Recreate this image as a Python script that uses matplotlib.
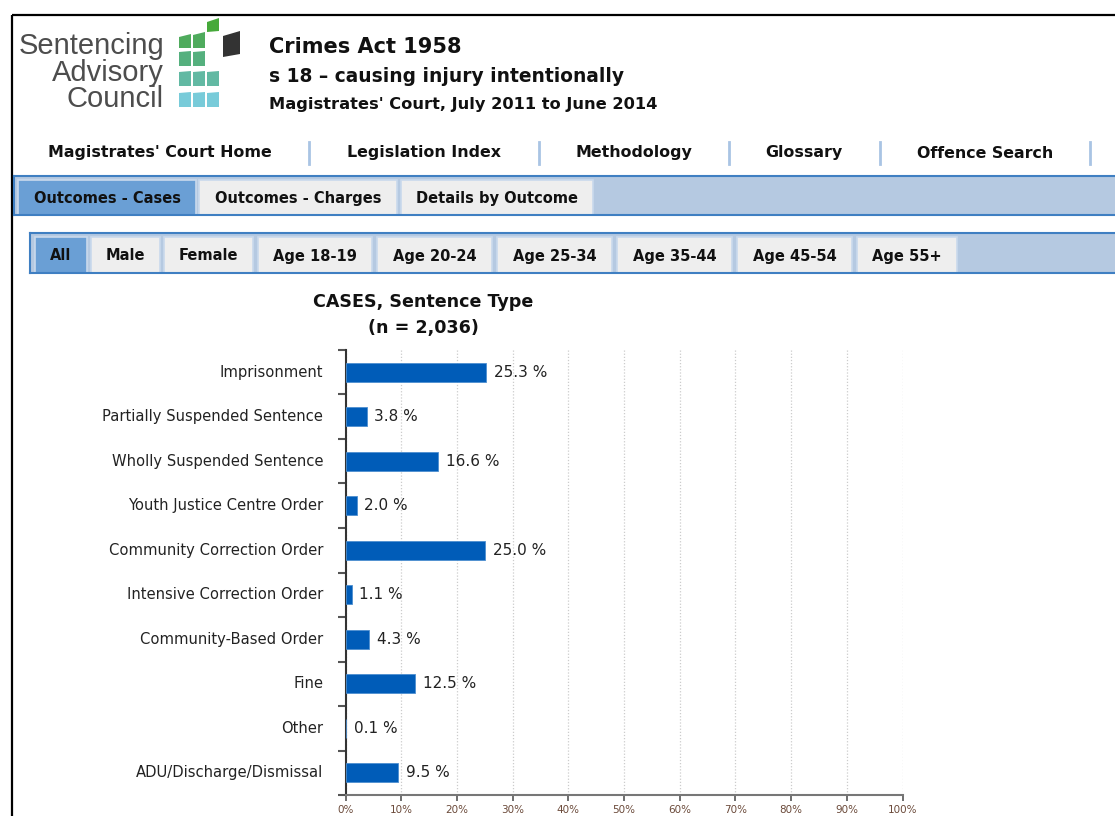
import numpy as np
import matplotlib
matplotlib.use("Agg")
import matplotlib.pyplot as plt
from matplotlib.patches import Rectangle, Polygon

plt.rcParams['font.family'] = ['DejaVu Sans']

CATEGORIES = ['Imprisonment', 'Partially Suspended Sentence', 'Wholly Suspended Sentence',
              'Youth Justice Centre Order', 'Community Correction Order', 'Intensive Correction Order',
              'Community-Based Order', 'Fine', 'Other', 'ADU/Discharge/Dismissal']
PERCENT = [25.3, 3.8, 16.6, 2.0, 25.0, 1.1, 4.3, 12.5, 0.1, 9.5]
XTICKS = [0, 10, 20, 30, 40, 50, 60, 70, 80, 90, 100]

NAV_LINKS = ["Magistrates' Court Home", 'Legislation Index', 'Methodology', 'Glossary', 'Offence Search']
OUTCOME_TABS = ['Outcomes - Cases', 'Outcomes - Charges', 'Details by Outcome']
GROUP_TABS = ['All', 'Male', 'Female', 'Age 18-19', 'Age 20-24', 'Age 25-34',
              'Age 35-44', 'Age 45-54', 'Age 55+']

W, H = 1115, 816
BAR_BLUE = '#005cb8'
TAB_SEL = '#6a9fd5'
TAB_OFF = '#eeeeee'
BAND = '#b5c9e1'
BAND_LINE = '#3f7fc2'

fig = plt.figure(figsize=(W / 100, H / 100), dpi=100)
fig.patch.set_facecolor('white')

# page layer in pixel coordinates (y down)
bg = fig.add_axes([0, 0, 1, 1])
bg.set_xlim(0, W)
bg.set_ylim(H, 0)
bg.axis('off')

# outer border of the page
bg.plot([12, W], [15, 15], color='black', lw=1.6, solid_capstyle='butt')
bg.plot([12, 12], [15, H], color='black', lw=1.6, solid_capstyle='butt')

# logo text
for txt, y in [('Sentencing', 46), ('Advisory', 73), ('Council', 99)]:
    bg.text(164, y, txt, ha='right', va='center', fontsize=21, color='#4d4d4d',
            family=['Liberation Sans Narrow', 'Liberation Sans'])

# logo squares: (col, row) cells, green at the top fading to teal
cells = [(2, 0), (0, 1), (1, 1), (0, 2), (1, 2), (0, 3), (1, 3), (2, 3), (0, 4), (1, 4), (2, 4)]
row_top = [20, 34, 51, 71, 92]
grad = ['#46a93a', '#4fab5d', '#55b07e', '#62b9a3', '#78cbd9']
for c, r in cells:
    x0 = 179 + c * 14
    y0 = row_top[r]
    if r == 0:
        pts = [(x0, y0 + 2), (x0 + 12, y0 - 2), (x0 + 12, y0 + 11), (x0, y0 + 12)]
    elif r == 1:
        lift = c * 2
        pts = [(x0, y0 + 3 - lift), (x0 + 12, y0 - lift), (x0 + 12, y0 + 14), (x0, y0 + 14)]
    else:
        pts = [(x0, y0 + 1), (x0 + 12, y0), (x0 + 12, y0 + 15), (x0, y0 + 15)]
    bg.add_patch(Polygon(pts, closed=True, color=grad[r], lw=0))
bg.add_patch(Polygon([(223, 36), (240, 31), (240, 54), (223, 57)], closed=True, color='#333333', lw=0))

# headings
bg.text(269, 47, 'Crimes Act 1958', ha='left', va='center', fontsize=15, weight='bold', color='#111111')
bg.text(269, 77, 's 18 \u2013 causing injury intentionally', ha='left', va='center', fontsize=13.4,
        weight='bold', color='#111111')
bg.text(269, 104, "Magistrates' Court, July 2011 to June 2014", ha='left', va='center', fontsize=11.7,
        weight='bold', color='#111111')

# top navigation
nav_x = [160, 424, 634, 804, 985]
for label, x in zip(NAV_LINKS, nav_x):
    bg.text(x, 153, label, ha='center', va='center', fontsize=11.4, weight='bold', color='#111111')
for x in [309, 539, 729, 880, 1090]:
    bg.plot([x, x], [142, 164], color='#a9c4e4', lw=2)


def tab_band(x_start, y_top, y_bot, tabs, spans, selected):
    bg.add_patch(Rectangle((x_start, y_top), W - x_start, y_bot - y_top, facecolor=BAND,
                           edgecolor='none'))
    bg.plot([x_start, W], [y_top, y_top], color=BAND_LINE, lw=1.5)
    bg.plot([x_start, W], [y_bot, y_bot], color=BAND_LINE, lw=1.5)
    bg.plot([x_start, x_start], [y_top, y_bot], color=BAND_LINE, lw=1.5)
    for i, (label, (x0, x1)) in enumerate(zip(tabs, spans)):
        face = TAB_SEL if i == selected else TAB_OFF
        bg.add_patch(Rectangle((x0, y_top + 4), x1 - x0, y_bot - y_top - 4.5, facecolor=face,
                               edgecolor='#c9d9ec', lw=1.2))
        bg.text((x0 + x1) / 2, (y_top + y_bot) / 2 + 3, label, ha='center', va='center',
                fontsize=10.5, weight='bold', color='#111111')


tab_band(14, 175.5, 215, OUTCOME_TABS, [(18, 196), (199, 397), (401, 593)], 0)
tab_band(30, 233, 273, GROUP_TABS,
         [(35, 87), (91, 160), (164, 253), (258, 372), (377, 492), (497, 612),
          (617, 732), (737, 852), (857, 957)], 0)

# chart title
bg.text(423, 302, 'CASES, Sentence Type', ha='center', va='center', fontsize=12.6, weight='bold',
        color='#111111')
bg.text(423, 328, '(n = 2,036)', ha='center', va='center', fontsize=12.6, weight='bold',
        color='#111111')

# chart
ax = fig.add_axes([345.5 / W, (H - 795) / H, 557 / W, 445 / H])
ax.set_facecolor('none')
pos = np.arange(len(CATEGORIES))
ax.barh(pos, PERCENT, height=0.43, color=BAR_BLUE, edgecolor='#4d8fd0', lw=0.6, zorder=3)
for p, v in zip(pos, PERCENT):
    ax.text(v + 1.4, p, f'{v:.1f} %', ha='left', va='center', fontsize=11, color='#222222')

ax.set_xlim(0, 100)
ax.set_ylim(len(CATEGORIES) - 0.5, -0.5)
ax.set_xticks(XTICKS)
ax.set_xticklabels([f'{t}%' for t in XTICKS], fontsize=7.5, color='#6b4a3a')
ax.set_yticks(pos)
ax.set_yticklabels(CATEGORIES, fontsize=10.6, color='#222222', va='center')
ax.set_yticks(np.arange(-0.5, len(CATEGORIES), 1), minor=True)
ax.tick_params(axis='y', which='major', length=0, pad=16)
ax.tick_params(axis='y', which='minor', length=6, width=1.5, color='#555555')
ax.tick_params(axis='x', length=4, width=1.2, color='#555555', pad=3)
ax.grid(axis='x', linestyle=(0, (1, 1.5)), color='#cccccc', lw=0.9, zorder=0)
for s in ['top', 'right']:
    ax.spines[s].set_visible(False)
ax.spines['left'].set_color('#333333')
ax.spines['left'].set_linewidth(1.5)
ax.spines['bottom'].set_color('#777777')
ax.spines['bottom'].set_linewidth(1.5)

fig.savefig('out.png', dpi=100)
